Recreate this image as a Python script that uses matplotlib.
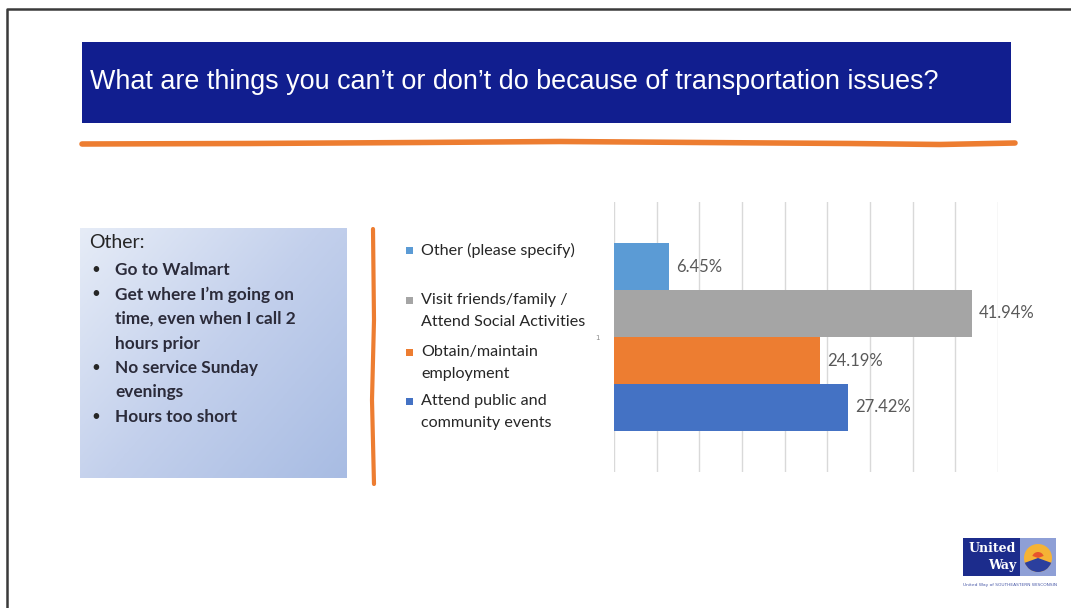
import matplotlib
matplotlib.use("Agg")
import matplotlib.pyplot as plt
import matplotlib.patches as patches
from matplotlib.colors import LinearSegmentedColormap
import numpy as np

# Data
categories = ["Other (please specify)",
              "Visit friends/family /\nAttend Social Activities",
              "Obtain/maintain\nemployment",
              "Attend public and\ncommunity events"]
values = [6.45, 41.94, 24.19, 27.42]
colors = ["#5B9BD5", "#A5A5A5", "#ED7D31", "#4472C4"]
x_ticks = list(range(0, 50, 5))
other_notes = ["Go to Walmart",
               "Get where I\u2019m going on\ntime, even when I call 2\nhours prior",
               "No service Sunday\nevenings",
               "Hours too short"]
title = "What are things you can\u2019t or don\u2019t do because of transportation issues?"

W, H = 1071, 608
C_BANNER = "#111E8F"
C_ORANGE = "#ED7D31"
C_LABEL = "#595959"
C_TEXT = "#262626"
FONT = "Lato"


def fig_rect(x0, y0, x1, y1):
    # pixel box (top-left origin) -> figure fraction
    return [x0 / W, 1 - y1 / H, (x1 - x0) / W, (y1 - y0) / H]


fig = plt.figure(figsize=(W / 100, H / 100), dpi=100, facecolor="white")

# Background / slide layer in pixel coordinates
bg = fig.add_axes([0, 0, 1, 1])
bg.set_xlim(0, W)
bg.set_ylim(H, 0)
bg.axis("off")

# slide frame
bg.plot([7, 7, W], [H, 9, 9], color="#3A3A3A", lw=1.8, solid_capstyle="butt")

# title banner
bg.add_patch(patches.Rectangle((82, 42), 929, 81, facecolor=C_BANNER, edgecolor="none"))
bg.text(90, 82, title, color="white", fontsize=19.4, family="Liberation Sans",
        ha="left", va="center")

# orange hand-drawn line
lx = np.array([82, 250, 420, 560, 700, 850, 940, 1015])
ly = np.array([144, 143.5, 142.5, 141.5, 142.5, 143.5, 144.5, 143])
bg.plot(lx, ly, color=C_ORANGE, lw=4, solid_capstyle="round")

# gradient "Other" box
cmap = LinearSegmentedColormap.from_list("box", ["#E6ECF7", "#C3D0EC", "#A8BCE3"])
gx, gy = np.meshgrid(np.linspace(0, 1, 200), np.linspace(0, 1, 200))
bg.imshow(0.55 * gx + 0.45 * gy, extent=(80, 347, 478, 228), cmap=cmap,
          aspect="auto", zorder=1)
bg.set_xlim(0, W)
bg.set_ylim(H, 0)

bg.text(89, 243, "Other:", fontsize=14, family=FONT, color=C_TEXT, va="center", zorder=3)
line = 0
for note in other_notes:
    for j, part in enumerate(note.split("\n")):
        yy = 270 + line * 24.5
        if j == 0:
            bg.text(91, yy, "\u2022", fontsize=11, family=FONT, color=C_TEXT,
                    va="center", zorder=3)
        bg.text(115, yy, part, fontsize=12.4, family=FONT, weight="bold",
                color="#2B2B3A", va="center", zorder=3)
        line += 1

# vertical orange divider
bg.plot([373, 374, 372, 374], [229, 320, 400, 484], color=C_ORANGE, lw=3,
        solid_capstyle="round")

# legend (manual, Excel style)
leg_y = [250, 300, 352, 401]
for lab, col, yy in zip(categories, colors, leg_y):
    bg.add_patch(patches.Rectangle((406, yy - 3.5), 7, 7, facecolor=col, edgecolor="none"))
    for k, part in enumerate(lab.split("\n")):
        bg.text(421, yy + k * 22, part, fontsize=11.6, family=FONT, color=C_TEXT,
                va="center", ha="left")

# United Way logo
bg.add_patch(patches.Rectangle((963, 538), 57, 38, facecolor="#1C2C8C", edgecolor="none"))
bg.add_patch(patches.Rectangle((1020, 538), 36, 38, facecolor="#8E9FD6", edgecolor="none"))
bg.text(1016, 549, "United", color="white", fontsize=9, family="DejaVu Serif",
        weight="bold", ha="right", va="center")
bg.text(1016, 566, "Way", color="white", fontsize=9, family="DejaVu Serif",
        weight="bold", ha="right", va="center")
bg.add_patch(patches.Circle((1038, 558), 14, facecolor="#F5B335", edgecolor="none"))
bg.add_patch(patches.Wedge((1038, 558), 14, 20, 160, facecolor="#2B3F9E", edgecolor="none"))
bg.add_patch(patches.Wedge((1038, 558), 6, 200, 340, facecolor="#E8542C", edgecolor="none"))
bg.text(963, 585, "United Way of SOUTHEASTERN WISCONSIN", fontsize=3.2, color="#4A5AA8",
        ha="left", va="center")

# Bar chart
ax = fig.add_axes(fig_rect(614, 202, 998, 472))
ax.patch.set_alpha(0)
h = 47 / 270
offsets = [-1.5 * h, -0.5 * h, 0.5 * h, 1.5 * h]
for val, col, off in zip(values, colors, offsets):
    bars = ax.barh([off], [val], height=h, color=col, zorder=3)
    ax.bar_label(bars, labels=[f"{val:.2f}%"], padding=5, fontsize=12,
                 family=FONT, color=C_LABEL)
ax.set_xlim(0, 45)
ax.set_ylim(0.5, -0.5)
ax.set_xticks(x_ticks)
ax.set_xticklabels([])
ax.grid(axis="x", color="#D9D9D9", lw=1, zorder=0)
ax.tick_params(length=0, pad=10)
ax.set_yticks([0])
ax.set_yticklabels(["1"], fontsize=5, color="#8C8C8C")
for s in ax.spines.values():
    s.set_visible(False)

fig.savefig("out.png", dpi=100, facecolor="white")
